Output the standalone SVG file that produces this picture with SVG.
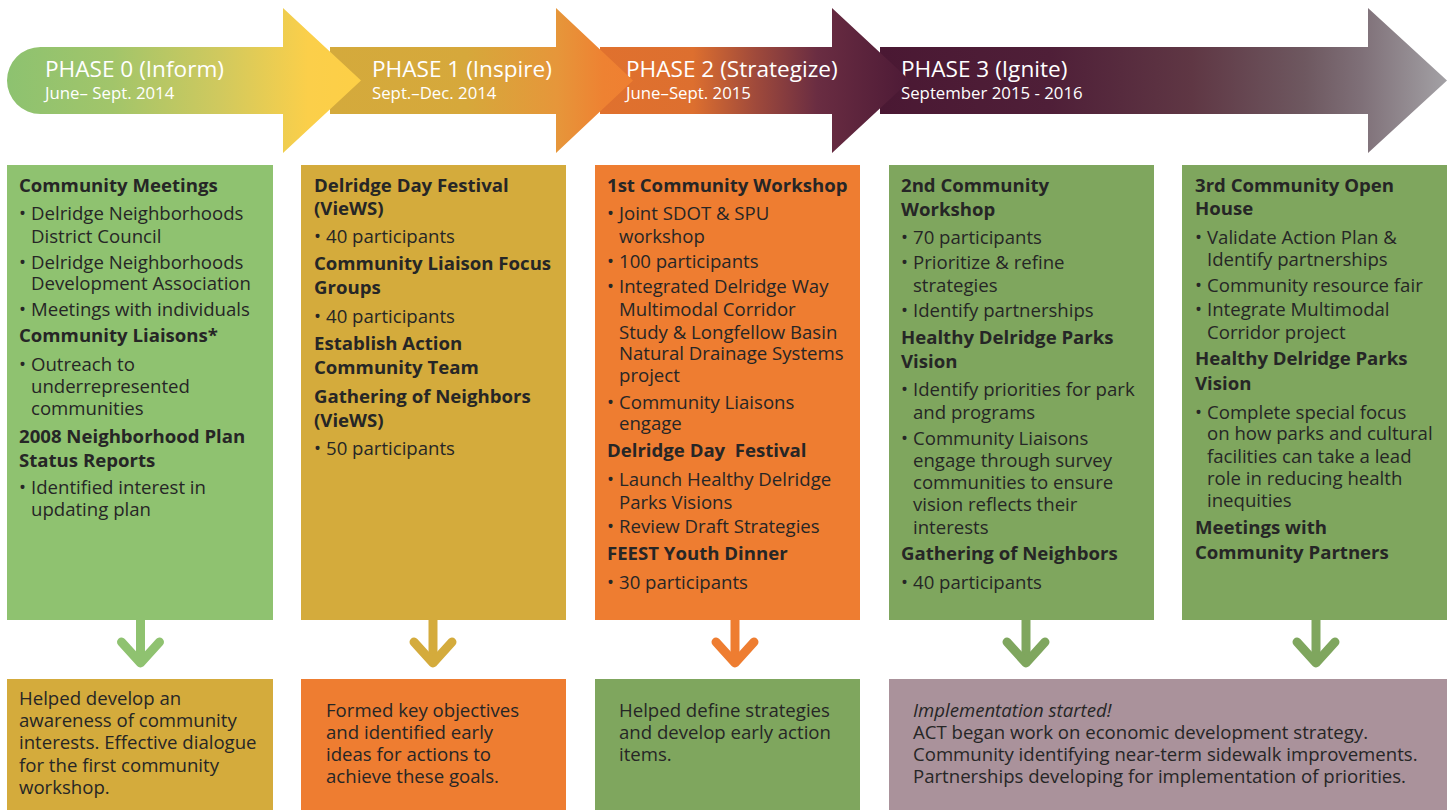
<svg xmlns="http://www.w3.org/2000/svg" width="1453" height="810" viewBox="0 0 1453 810">
<defs>
<linearGradient id="g0" gradientUnits="userSpaceOnUse" x1="7" y1="0" x2="361" y2="0">
<stop offset="0" stop-color="#8dc270"/><stop offset="0.3" stop-color="#a2c56a"/><stop offset="0.6" stop-color="#d0c95e"/><stop offset="0.85" stop-color="#fbcf4a"/><stop offset="1" stop-color="#fdcf46"/>
</linearGradient>
<linearGradient id="g1" gradientUnits="userSpaceOnUse" x1="330" y1="0" x2="633" y2="0">
<stop offset="0" stop-color="#d4aa3c"/><stop offset="0.45" stop-color="#d6a83b"/><stop offset="0.75" stop-color="#e6963a"/><stop offset="0.9" stop-color="#ee8232"/><stop offset="1" stop-color="#ef7f31"/>
</linearGradient>
<linearGradient id="g2" gradientUnits="userSpaceOnUse" x1="600" y1="0" x2="910" y2="0">
<stop offset="0" stop-color="#e0712e"/><stop offset="0.3" stop-color="#dd6f2f"/><stop offset="0.5" stop-color="#a04a3b"/><stop offset="0.7" stop-color="#6a2d42"/><stop offset="1" stop-color="#4d1a36"/>
</linearGradient>
<linearGradient id="g3" gradientUnits="userSpaceOnUse" x1="880" y1="0" x2="1447" y2="0">
<stop offset="0" stop-color="#4a1833"/><stop offset="0.3" stop-color="#4f1f38"/><stop offset="0.55" stop-color="#5f3744"/><stop offset="0.75" stop-color="#6e5860"/><stop offset="0.85" stop-color="#7f7078"/><stop offset="1" stop-color="#a3a1a5"/>
</linearGradient>
</defs>
<style>
text{font-family:"Open Sans","Noto Sans","DejaVu Sans",sans-serif;fill:#262626;font-size:18.6px}
.ph{fill:#fff;font-size:22.6px}
.dt{fill:#fff;font-size:16.8px}
.h{font-weight:700}
.it{font-style:italic}
.cA{fill:#8fc270}.cB{fill:#d4ab3c}.cC{fill:#ee7d31}.cD{fill:#7fa65e}.cE{fill:#aa929b}
.ar{fill:none;stroke-width:9}
.chev{fill:none;stroke-width:9;stroke-linecap:round;stroke-linejoin:round}
</style>
<rect width="1453" height="810" fill="#fff"/>
<g id="phases">
<g id="phase3"><path d="M880,47H1368V8L1447,80.5L1368,153V114H880Z" fill="url(#g3)"/>
<text class="ph" x="901" y="77">PHASE 3 (Ignite)</text><text class="dt" x="901" y="99">September 2015 - 2016</text></g>
<g id="phase2"><path d="M600,47H832V8L910,80.5L832,153V114H600Z" fill="url(#g2)"/>
<text class="ph" x="626" y="77">PHASE 2 (Strategize)</text><text class="dt" x="626" y="99">June–Sept. 2015</text></g>
<g id="phase1"><path d="M330,47H556V8L633,80.5L556,153V114H330Z" fill="url(#g1)"/>
<text class="ph" x="372" y="77">PHASE 1 (Inspire)</text><text class="dt" x="372" y="99">Sept.–Dec. 2014</text></g>
<g id="phase0"><path d="M40.5,47H283V8L361,80.5L283,153V114H40.5A33.5,33.5 0 0 1 40.5,47Z" fill="url(#g0)"/>
<text class="ph" x="45" y="77">PHASE 0 (Inform)</text><text class="dt" x="45" y="99">June– Sept. 2014</text></g>
</g>
<g id="col0">
<rect class="cA" x="7" y="165" width="266" height="455"/>
<text class="h" x="19" y="191.5">Community Meetings</text>
<text x="19" y="220"><tspan>•</tspan><tspan x="31">Delridge Neighborhoods</tspan></text>
<text x="31" y="242.5">District Council</text>
<text x="19" y="268.5"><tspan>•</tspan><tspan x="31">Delridge Neighborhoods</tspan></text>
<text x="31" y="290">Development Association</text>
<text x="19" y="316"><tspan>•</tspan><tspan x="31">Meetings with individuals</tspan></text>
<text class="h" x="19" y="341.5">Community Liaisons*</text>
<text x="19" y="370.5"><tspan>•</tspan><tspan x="31">Outreach to</tspan></text>
<text x="31" y="393">underrepresented</text>
<text x="31" y="415">communities</text>
<text class="h" x="19" y="443">2008 Neighborhood Plan</text>
<text class="h" x="19" y="466.5">Status Reports</text>
<text x="19" y="494"><tspan>•</tspan><tspan x="31">Identified interest in</tspan></text>
<text x="31" y="516">updating plan</text>
</g>
<g id="col1">
<rect class="cB" x="301" y="165" width="265" height="455"/>
<text class="h" x="314" y="191.5">Delridge Day Festival</text>
<text class="h" x="314" y="215">(VieWS)</text>
<text x="314" y="243"><tspan>•</tspan><tspan x="326">40 participants</tspan></text>
<text class="h" x="314" y="270">Community Liaison Focus</text>
<text class="h" x="314" y="293.5">Groups</text>
<text x="314" y="322.5"><tspan>•</tspan><tspan x="326">40 participants</tspan></text>
<text class="h" x="314" y="349.5">Establish Action</text>
<text class="h" x="314" y="373.5">Community Team</text>
<text class="h" x="314" y="402.5">Gathering of Neighbors</text>
<text class="h" x="314" y="426.5">(VieWS)</text>
<text x="314" y="455"><tspan>•</tspan><tspan x="326">50 participants</tspan></text>
</g>
<g id="col2">
<rect class="cC" x="595" y="165" width="265" height="455"/>
<text class="h" x="607" y="192">1st Community Workshop</text>
<text x="607" y="220"><tspan>•</tspan><tspan x="619">Joint SDOT &amp; SPU</tspan></text>
<text x="619" y="242.5">workshop</text>
<text x="607" y="267.5"><tspan>•</tspan><tspan x="619">100 participants</tspan></text>
<text x="607" y="292.5"><tspan>•</tspan><tspan x="619">Integrated Delridge Way</tspan></text>
<text x="619" y="316">Multimodal Corridor</text>
<text x="619" y="338.5">Study &amp; Longfellow Basin</text>
<text x="619" y="360">Natural Drainage Systems</text>
<text x="619" y="381.5">project</text>
<text x="607" y="408.5"><tspan>•</tspan><tspan x="619">Community Liaisons</tspan></text>
<text x="619" y="429.5">engage</text>
<text class="h" x="607" y="456.5" xml:space="preserve">Delridge Day  Festival</text>
<text x="607" y="486"><tspan>•</tspan><tspan x="619">Launch Healthy Delridge</tspan></text>
<text x="619" y="508.5">Parks Visions</text>
<text x="607" y="532.5"><tspan>•</tspan><tspan x="619">Review Draft Strategies</tspan></text>
<text class="h" x="607" y="559.5">FEEST Youth Dinner</text>
<text x="607" y="589"><tspan>•</tspan><tspan x="619">30 participants</tspan></text>
</g>
<g id="col3">
<rect class="cD" x="889" y="165" width="265" height="455"/>
<text class="h" x="901" y="192">2nd Community</text>
<text class="h" x="901" y="216">Workshop</text>
<text x="901" y="244"><tspan>•</tspan><tspan x="913">70 participants</tspan></text>
<text x="901" y="269"><tspan>•</tspan><tspan x="913">Prioritize &amp; refine</tspan></text>
<text x="913" y="291.5">strategies</text>
<text x="901" y="316.5"><tspan>•</tspan><tspan x="913">Identify partnerships</tspan></text>
<text class="h" x="901" y="344">Healthy Delridge Parks</text>
<text class="h" x="901" y="367.5">Vision</text>
<text x="901" y="396"><tspan>•</tspan><tspan x="913">Identify priorities for park</tspan></text>
<text x="913" y="418.5">and programs</text>
<text x="901" y="444.5"><tspan>•</tspan><tspan x="913">Community Liaisons</tspan></text>
<text x="913" y="466.5">engage through survey</text>
<text x="913" y="489">communities to ensure</text>
<text x="913" y="511">vision reflects their</text>
<text x="913" y="533.5">interests</text>
<text class="h" x="901" y="560">Gathering of Neighbors</text>
<text x="901" y="588.5"><tspan>•</tspan><tspan x="913">40 participants</tspan></text>
</g>
<g id="col4">
<rect class="cD" x="1182" y="165" width="265" height="455"/>
<text class="h" x="1195" y="192">3rd Community Open</text>
<text class="h" x="1195" y="215">House</text>
<text x="1195" y="243.5"><tspan>•</tspan><tspan x="1207">Validate Action Plan &amp;</tspan></text>
<text x="1207" y="266">Identify partnerships</text>
<text x="1195" y="291.5"><tspan>•</tspan><tspan x="1207">Community resource fair</tspan></text>
<text x="1195" y="316"><tspan>•</tspan><tspan x="1207">Integrate Multimodal</tspan></text>
<text x="1207" y="339">Corridor project</text>
<text class="h" x="1195" y="365">Healthy Delridge Parks</text>
<text class="h" x="1195" y="389.5">Vision</text>
<text x="1195" y="418.5"><tspan>•</tspan><tspan x="1207">Complete special focus</tspan></text>
<text x="1207" y="440">on how parks and cultural</text>
<text x="1207" y="462.5">facilities can take a lead</text>
<text x="1207" y="485">role in reducing health</text>
<text x="1207" y="506.5">inequities</text>
<text class="h" x="1195" y="533.5">Meetings with</text>
<text class="h" x="1195" y="558.5">Community Partners</text>
</g>
<g id="connectors">
<g stroke="#8fc270"><path class="ar" d="M140.5,620V658"/><path class="chev" d="M121.5,642L140.5,663L159.5,642"/></g>
<g stroke="#d4ab3c"><path class="ar" d="M433,620V658"/><path class="chev" d="M414,642L433,663L452,642"/></g>
<g stroke="#ee7d31"><path class="ar" d="M735,620V658"/><path class="chev" d="M716,642L735,663L754,642"/></g>
<g stroke="#7fa65e"><path class="ar" d="M1026,620V658"/><path class="chev" d="M1007,642L1026,663L1045,642"/></g>
<g stroke="#7fa65e"><path class="ar" d="M1316,620V658"/><path class="chev" d="M1297,642L1316,663L1335,642"/></g>
</g>
<g id="out0">
<rect class="cB" x="7" y="679" width="266" height="131"/>
<text x="19" y="705">Helped develop an</text>
<text x="19" y="727">awareness of community</text>
<text x="19" y="749">interests. Effective dialogue</text>
<text x="19" y="772">for the first community</text>
<text x="19" y="794">workshop.</text>
</g>
<g id="out1">
<rect class="cC" x="301" y="679" width="265" height="131"/>
<text x="326" y="717">Formed key objectives</text>
<text x="326" y="739">and identified early</text>
<text x="326" y="761">ideas for actions to</text>
<text x="326" y="783">achieve these goals.</text>
</g>
<g id="out2">
<rect class="cD" x="595" y="679" width="265" height="131"/>
<text x="619" y="717">Helped define strategies</text>
<text x="619" y="739">and develop early action</text>
<text x="619" y="761">items.</text>
</g>
<g id="out3">
<rect class="cE" x="889" y="679" width="558" height="131"/>
<text class="it" x="913" y="717">Implementation started!</text>
<text x="913" y="739">ACT began work on economic development strategy.</text>
<text x="913" y="761">Community identifying near-term sidewalk improvements.</text>
<text x="913" y="783">Partnerships developing for implementation of priorities.</text>
</g>
</svg>
